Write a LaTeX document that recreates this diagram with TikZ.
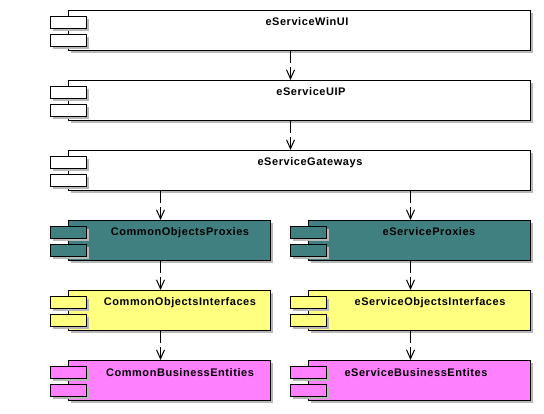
\documentclass[tikz,border=0pt]{standalone}
\usepackage{fontspec}
\setmainfont{Liberation Sans}[LetterSpace=5]
\usetikzlibrary{arrows.meta,calc}
\definecolor{teal1}{HTML}{408080}
\definecolor{yel1}{HTML}{FFFF80}
\definecolor{pink1}{HTML}{FF80FF}
\definecolor{shad}{HTML}{B8B8B8}
\tikzset{
  compbox/.style={draw=black,line width=1pt,inner sep=0pt,anchor=north west},
  tabbox/.style={draw=black,line width=1pt,inner sep=0pt,minimum width=36pt,minimum height=12pt,anchor=north west},
  lbl/.style={font=\bfseries\fontsize{11}{13}\selectfont,anchor=base,inner sep=0pt},
  dep/.style={line width=1pt,dash pattern=on 12pt off 4pt,-{Straight Barb[length=9pt,width=8pt,line width=1pt]}},
}
% #1 name, #2 left, #3 right, #4 top, #5 fill
\newcommand\mycomp[5]{%
  \fill[shad] (#2+3,#4+3) rectangle (#3+3,#4+43);
  \node[compbox,fill=#5,minimum width={(#3-#2)*1pt},minimum height=40pt] (#1) at (#2,#4) {};
  \fill[shad] (#2-15,#4+9) rectangle (#2+21,#4+21);
  \fill[shad] (#2-15,#4+27) rectangle (#2+21,#4+39);
  \node[tabbox,fill=#5] (#1t1) at (#2-18,#4+6) {};
  \node[tabbox,fill=#5] (#1t2) at (#2-18,#4+24) {};
}
\begin{document}
\begin{tikzpicture}[x=1pt,y=-1pt]
\useasboundingbox[fill=white] (0,0) rectangle (544,414);
\mycomp{winui}{68}{530}{10}{white}
\mycomp{uip}{68}{530}{80}{white}
\mycomp{gw}{68}{530}{150}{white}
\mycomp{cop}{68}{270}{220}{teal1}
\mycomp{ep}{308}{530}{220}{teal1}
\mycomp{coi}{68}{270}{290}{yel1}
\mycomp{eoi}{308}{530}{290}{yel1}
\mycomp{cbe}{68}{270}{360}{pink1}
\mycomp{ebe}{308}{530}{360}{pink1}
\node[lbl] (winuil) at (307,26) {eServiceWinUI};
\node[lbl] (uipl) at (311,96) {eServiceUIP};
\node[lbl] (gwl) at (310,166) {eServiceGateways};
\node[lbl] (copl) at (180,236) {CommonObjectsProxies};
\node[lbl] (epl) at (429,236) {eServiceProxies};
\node[lbl] (coil) at (180,306) {CommonObjectsInterfaces};
\node[lbl] (eoil) at (430,306) {eServiceObjectsInterfaces};
\node[lbl] (cbel) at (180,376) {CommonBusinessEntities};
\node[lbl] (ebel) at (416,376) {eServiceBusinessEntites};
\draw[dep] ([xshift=-9pt]winui.south) -- ([xshift=-9pt]uip.north);
\draw[dep] ([xshift=-9pt]uip.south) -- ([xshift=-9pt]gw.north);
\draw[dep] ([xshift=-9pt]cop.north |- gw.south) -- ([xshift=-9pt]cop.north);
\draw[dep] ([xshift=-9pt]ep.north |- gw.south) -- ([xshift=-9pt]ep.north);
\draw[dep] ([xshift=-9pt]cop.south) -- ([xshift=-9pt]coi.north);
\draw[dep] ([xshift=-9pt]ep.south) -- ([xshift=-9pt]eoi.north);
\draw[dep] ([xshift=-9pt]coi.south) -- ([xshift=-9pt]cbe.north);
\draw[dep] ([xshift=-9pt]eoi.south) -- ([xshift=-9pt]ebe.north);
\end{tikzpicture}
\end{document}
